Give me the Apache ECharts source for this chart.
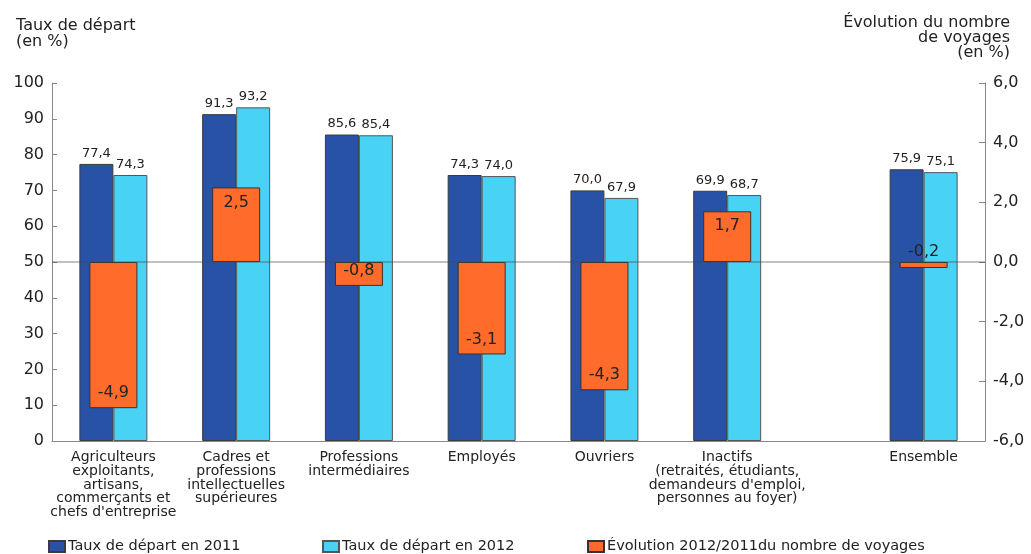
<!DOCTYPE html>
<html>
<head>
<meta charset="utf-8">
<script src="https://cdn.jsdelivr.net/npm/echarts@6/dist/echarts.min.js"></script>
<style>
html,body{margin:0;padding:0;background:#fff;}
#chart{width:1031px;height:554px;}
</style>
</head>
<body>
<div id="chart"></div>
<script>
// ---- data ----
const categories = [
  "Agriculteurs\nexploitants,\nartisans,\ncommerçants et\nchefs d'entreprise",
  "Cadres et\nprofessions\nintellectuelles\nsupérieures",
  "Professions\nintermédiaires",
  "Employés",
  "Ouvriers",
  "Inactifs\n(retraités, étudiants,\ndemandeurs d'emploi,\npersonnes au foyer)",
  "Ensemble"
];
const taux2011 = [77.4, 91.3, 85.6, 74.3, 70.0, 69.9, 75.9];
const taux2012 = [74.3, 93.2, 85.4, 74.0, 67.9, 68.7, 75.1];
const evolution = [-4.9, 2.5, -0.8, -3.1, -4.3, 1.7, -0.2];
const seriesNames = ["Taux de départ en 2011", "Taux de départ en 2012", "Évolution 2012/2011du nombre de voyages"];
const leftTitle = "Taux de départ\n(en %)";
const rightTitle = "Évolution du nombre\nde voyages\n(en %)";

// ---- layout (slot positions on a fine category grid) ----
const SLOT_COUNT = 38;
const slotOf = [2, 7, 12, 17, 22, 27, 35];

const FONT = "DejaVu Sans";
const fmt = v => Number(v).toFixed(1).replace('.', ',');

function spread(values, mapFn) {
  const arr = new Array(SLOT_COUNT).fill('-');
  values.forEach((v, i) => { arr[slotOf[i]] = mapFn ? mapFn(v, i) : v; });
  return arr;
}
const axisCats = spread(categories).map(c => c === '-' ? '' : c);

const chart = echarts.init(document.getElementById('chart'), null, {renderer: 'canvas'});

const valueLabel = {
  show: true, position: 'top', distance: 4,
  fontFamily: FONT, fontSize: 13, color: '#222',
  formatter: p => fmt(p.value)
};
const legendText = {fontFamily: FONT, fontSize: 14.5, color: '#222', padding: [0,0,0,-2]};

const option = {
  animation: false,
  backgroundColor: '#fff',
  grid: {left: 52, right: 46, top: 83, bottom: 113, containLabel: false},
  xAxis: [
    {
      type: 'category', data: axisCats, boundaryGap: true,
      axisLine: {show: true, lineStyle: {color: '#888', width: 1}},
      axisTick: {show: false},
      axisLabel: {interval: 0, margin: 10, fontFamily: FONT, fontSize: 14, lineHeight: 13.6, color: '#222', align: 'center'},
      splitLine: {show: false}
    },
    {
      type: 'category', data: axisCats, boundaryGap: true, show: false
    }
  ],
  yAxis: [
    {
      type: 'value', min: 0, max: 100, interval: 10, position: 'left',
      axisLine: {show: true, lineStyle: {color: '#888'}},
      axisTick: {show: true, inside: true, length: 5, lineStyle: {color: '#888'}},
      axisLabel: {margin: 8, fontFamily: FONT, fontSize: 16, color: '#222'},
      splitLine: {show: false}
    },
    {
      type: 'value', min: -6, max: 6, interval: 2, position: 'right',
      axisLine: {show: true, lineStyle: {color: '#888'}},
      axisTick: {show: true, inside: true, length: 6, lineStyle: {color: '#888'}},
      axisLabel: {margin: 8, fontFamily: FONT, fontSize: 16, color: '#222', formatter: v => fmt(v)},
      splitLine: {show: false}
    }
  ],
  legend: [
    {data: [{name: seriesNames[0], icon: 'rect'}], left: 43, top: 534, itemWidth: 16, itemHeight: 11, itemGap: 0,
     textStyle: legendText, selectedMode: false},
    {data: [{name: seriesNames[1], icon: 'rect'}], left: 317, top: 534, itemWidth: 16, itemHeight: 11, itemGap: 0,
     textStyle: legendText, selectedMode: false},
    {data: [{name: seriesNames[2], icon: 'rect'}], left: 582, top: 534, itemWidth: 16, itemHeight: 11, itemGap: 0,
     textStyle: legendText, selectedMode: false}
  ],
  graphic: [
    {type: 'text', x: 16, y: 18, style: {text: leftTitle, font: '16px "DejaVu Sans"', fill: '#222', lineHeight: 16}},
    {type: 'text', x: 1010, y: 15, style: {text: rightTitle, font: '16px "DejaVu Sans"', fill: '#222', lineHeight: 15, align: 'right'}}
  ],
  series: [
    {
      name: seriesNames[0], type: 'bar', xAxisIndex: 0, yAxisIndex: 0,
      data: spread(taux2011), barWidth: 34, barGap: '0%',
      itemStyle: {color: '#2852A6', borderColor: '#3b3b3b', borderWidth: 1},
      label: valueLabel, z: 2
    },
    {
      name: seriesNames[1], type: 'bar', xAxisIndex: 0, yAxisIndex: 0,
      data: spread(taux2012), barWidth: 34, barGap: '0%',
      itemStyle: {color: '#48D2F4', borderColor: '#555', borderWidth: 1},
      label: valueLabel, z: 2
    },
    {
      name: seriesNames[2], type: 'bar', xAxisIndex: 1, yAxisIndex: 1,
      barWidth: 48,
      data: spread(evolution, v => ({
        value: v,
        label: {position: v >= 0 ? 'insideTop' : (Math.abs(v) < 0.5 ? 'top' : 'insideBottom'),
                distance: Math.abs(v) < 0.5 ? 2 : 7}
      })),
      itemStyle: {color: '#FF6B2B', borderColor: '#333', borderWidth: 1},
      label: {show: true, fontFamily: FONT, fontSize: 16, color: '#222', formatter: p => fmt(p.value)},
      z: 3,
      markLine: {
        silent: true, symbol: 'none', label: {show: false},
        lineStyle: {color: 'rgba(70,70,70,0.45)', type: 'solid', width: 1.5},
        data: [{yAxis: 0}], z: 5
      }
    }
  ]
};
chart.setOption(option);
</script>
</body>
</html>
